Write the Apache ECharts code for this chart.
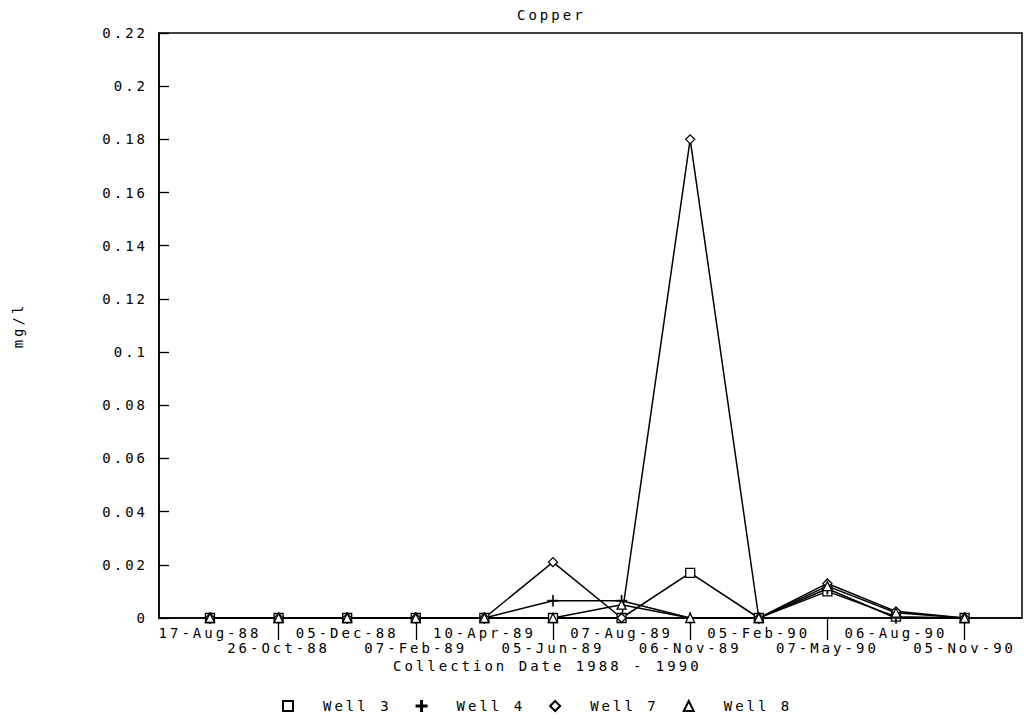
<!DOCTYPE html>
<html>
<head>
<meta charset="utf-8">
<script src="https://cdn.jsdelivr.net/npm/echarts@6/dist/echarts.min.js"></script>
<style>
  html, body { margin: 0; padding: 0; background: #fff; }
  #chart { width: 1024px; height: 719px; }
  #chart text { letter-spacing: 3px; }
</style>
</head>
<body>
<div id="chart"></div>
<script>
const dates = ['17-Aug-88','26-Oct-88','05-Dec-88','07-Feb-89','10-Apr-89','05-Jun-89','07-Aug-89','06-Nov-89','05-Feb-90','07-May-90','06-Aug-90','05-Nov-90'];
const well3 = [0,0,0,0,0,0,0,0.017,0,0.010,0.0005,0];
const well4 = [0,0,0,0,0,0.0065,0.0065,0,0,0.011,0,0];
const well7 = [0,0,0,0,0,0.021,0,0.18,0,0.013,0.0025,0];
const well8 = [0,0,0,0,0,0,0.005,0,0,0.012,0.002,0];
const yMin = 0, yMax = 0.22, yStep = 0.02;

const FONT = 'DejaVu Sans Mono';
const plusPath = 'path://M4.5,0h1v4.5h4.5v1h-4.5v4.5h-1v-4.5h-4.5v-1h4.5z';
const evenIdx = dates.map((d, i) => i).filter(i => i % 2 === 0);
const oddIdx = dates.map((d, i) => i).filter(i => i % 2 === 1);

function mk(name, arr, symbol, fill, bw) {
  return {
    name: name,
    type: 'line',
    xAxisIndex: 0,
    data: arr.map((v, i) => [i, v]),
    symbol: symbol,
    symbolSize: symbol === plusPath ? 11 : 9,
    lineStyle: { color: '#000', width: 1.5 },
    itemStyle: { color: fill, borderColor: '#000', borderWidth: bw },
    emphasis: { disabled: true },
    animation: false,
    z: 3
  };
}

const labelBase = {
  show: true, showMinLabel: true, showMaxLabel: true, hideOverlap: false,
  fontFamily: FONT, fontSize: 14, color: '#000', lineHeight: 16,
  formatter: function (v) { return dates[Math.round(v)]; }
};

const chart = echarts.init(document.getElementById('chart'), null, { renderer: 'svg' });
chart.setOption({
  backgroundColor: '#fff',
  animation: false,
  title: [
    { text: 'Copper', left: 512, top: 3,
      textStyle: { fontFamily: FONT, fontSize: 14, fontWeight: 'normal', color: '#000' } },
    { text: 'Collection Date 1988 - 1990', left: 388, top: 654,
      textStyle: { fontFamily: FONT, fontSize: 14, fontWeight: 'normal', color: '#000' } }
  ],
  legend: {
    left: 277, top: 694,
    itemWidth: 10, itemHeight: 10, itemGap: 42,
    textStyle: { fontFamily: FONT, fontSize: 14, color: '#000', padding: [0, 0, 0, 25] },
    data: [
      { name: 'Well 3', icon: 'rect' },
      { name: 'Well 4', icon: plusPath },
      { name: 'Well 7', icon: 'diamond' },
      { name: 'Well 8', icon: 'triangle' }
    ]
  },
  grid: {
    left: 159, right: 2, top: 33, bottom: 101,
    show: true, borderColor: '#000', borderWidth: 1.5, backgroundColor: 'transparent'
  },
  xAxis: [
    {
      type: 'value', position: 'bottom',
      min: -0.743, max: 11.837,
      splitLine: { show: false },
      axisLine: { show: true, onZero: false, lineStyle: { color: '#000', width: 1.5 } },
      axisTick: { show: true, customValues: oddIdx, length: 22, inside: false,
        lineStyle: { color: '#000', width: 1.3 } },
      axisLabel: Object.assign({}, labelBase, { customValues: evenIdx, margin: 7 })
    },
    {
      type: 'value', position: 'bottom', offset: 0,
      min: -0.743, max: 11.837,
      splitLine: { show: false },
      axisLine: { show: false, onZero: false },
      axisTick: { show: false },
      axisLabel: Object.assign({}, labelBase, { customValues: oddIdx, margin: 22 })
    }
  ],
  yAxis: {
    type: 'value',
    min: yMin, max: yMax, interval: yStep,
    name: 'mg/l',
    nameLocation: 'middle',
    nameGap: 134,
    nameTextStyle: { fontFamily: FONT, fontSize: 14, color: '#000' },
    splitLine: { show: false },
    axisLine: { show: true, onZero: false, lineStyle: { color: '#000', width: 1.5 } },
    axisTick: { show: true, inside: true, length: 10, lineStyle: { color: '#000', width: 1.3 } },
    axisLabel: { fontFamily: FONT, fontSize: 14, color: '#000', margin: 11,
      showMinLabel: true, showMaxLabel: true }
  },
  series: [
    mk('Well 3', well3, 'rect', '#fff', 1.3),
    mk('Well 4', well4, plusPath, '#000', 0.6),
    mk('Well 7', well7, 'diamond', '#fff', 1.3),
    mk('Well 8', well8, 'triangle', '#fff', 1.3)
  ]
});
</script>
</body>
</html>
